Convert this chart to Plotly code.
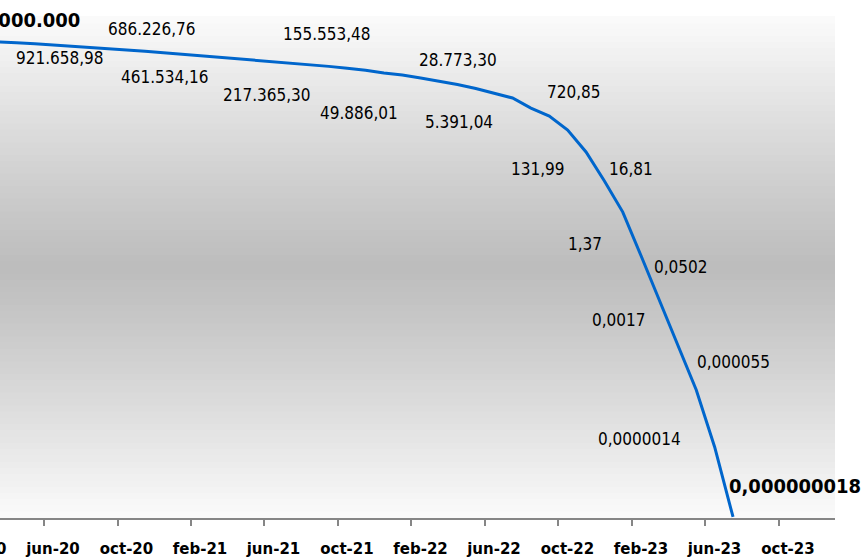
import plotly.graph_objects as go

# Monthly series (feb-20 .. jul-23) on a log scale
MONTHS = ['feb-20','mar-20','abr-20','may-20','jun-20','jul-20','ago-20','sep-20','oct-20','nov-20','dic-20',
          'ene-21','feb-21','mar-21','abr-21','may-21','jun-21','jul-21','ago-21','sep-21','oct-21','nov-21','dic-21',
          'ene-22','feb-22','mar-22','abr-22','may-22','jun-22','jul-22','ago-22','sep-22','oct-22','nov-22','dic-22',
          'ene-23','feb-23','mar-23','abr-23','may-23','jun-23','jul-23']
VALUES = [1000000, 967000, 893000, 830000, 766000, 703000, 671000, 607000, 549000, 504000, 460000,
          416000, 376000, 345000, 317000, 287000, 254000, 229000, 205000, 185000, 163000, 144000,
          119000, 104000, 85500, 70000, 55500, 42500, 31500, 22600, 11600, 6820, 2690,
          624, 90.6, 11.5, 0.618, 0.031, 0.00166, 8.36e-5, 1.89e-6, 1.8e-8]

# Axis tick labels (every 4 months)
TICK_LABELS = ['feb-20','jun-20','oct-20','feb-21','jun-21','oct-21','feb-22','jun-22','oct-22','feb-23','jun-23','oct-23']

# Value labels: text, month position, log10 position, bold
LABEL_TEXT = ['1.000.000','921.658,98','686.226,76','461.534,16','217.365,30','155.553,48','49.886,01',
              '28.773,30','5.391,04','720,85','131,99','16,81','1,37','0,0502','0,0017','0,000055',
              '0,0000014','0,000000018']
LABEL_MONTH = [5.567, 4.370, 9.404, 10.112, 15.635, 18.884, 20.669, 26.019, 26.084, 32.370, 30.384,
               35.461, 32.969, 38.166, 34.776, 41.051, 35.935, 44.370]
LABEL_LOG = [6.606, 5.495, 6.347, 4.975, 4.455, 6.202, 3.921, 5.451, 3.661, 4.513, 2.304, 2.304,
             0.138, -0.526, -2.042, -3.255, -5.507, -6.864]
LABEL_BOLD = [True] + [False]*16 + [True]

x = list(range(len(MONTHS)))

fig = go.Figure()
fig.add_trace(go.Scatter(x=x, y=VALUES, mode='lines',
                         line=dict(color='#0066cc', width=3), hoverinfo='skip', showlegend=False))

# vertical white-gray-white gradient background of plot area
N = 80
shapes = []
for i in range(N):
    t = (i + 0.5) / N
    d = abs(t - 0.5) * 2
    c = int(round(189 + (251 - 189) * d ** 1.15))
    shapes.append(dict(type='rect', xref='paper', yref='paper', x0=0, x1=1,
                       y0=i / N, y1=(i + 1) / N + 0.002, fillcolor=f'rgb({c},{c},{c})',
                       line=dict(width=0), layer='below'))

annotations = []
for txt, mx, ly, b in zip(LABEL_TEXT, LABEL_MONTH, LABEL_LOG, LABEL_BOLD):
    annotations.append(dict(x=mx, y=ly, xref='x', yref='y', text=txt, showarrow=False,
                            xanchor='right' if txt == '1.000.000' else 'center', yanchor='middle',
                            font=dict(family='DejaVu Sans Condensed, DejaVu Sans',
                                      size=20 if b else 17, color='#000000',
                                      weight='bold' if b else 'normal')))
# partially visible first axis label
annotations.append(dict(x=-20.3 / 835, y=-31 / 501, xref='paper', yref='paper', text=TICK_LABELS[0],
                        showarrow=False, xanchor='center', yanchor='middle',
                        font=dict(family='DejaVu Sans', size=15, color='#000000', weight='bold')))

tickvals = [4 * i - 0.5 for i in range(len(TICK_LABELS))]

fig.update_layout(
    width=866, height=557,
    margin=dict(l=0, r=31, t=17, b=39),
    paper_bgcolor='white', plot_bgcolor='white',
    shapes=shapes, annotations=annotations,
    xaxis=dict(range=[1.105, 46.55], tickmode='array', tickvals=tickvals, ticktext=TICK_LABELS,
               showgrid=False, zeroline=False, showline=True, linecolor='#868686', linewidth=2,
               ticks='outside', ticklen=6, tickwidth=1.5, tickcolor='#868686',
               ticklabelshift=9, ticklabelstandoff=10,
               tickfont=dict(family='DejaVu Sans', size=15, color='#000000', weight='bold')),
    yaxis=dict(type='log', range=[-7.774, 6.693], visible=False, showgrid=False),
)

fig.write_html('out.html')
